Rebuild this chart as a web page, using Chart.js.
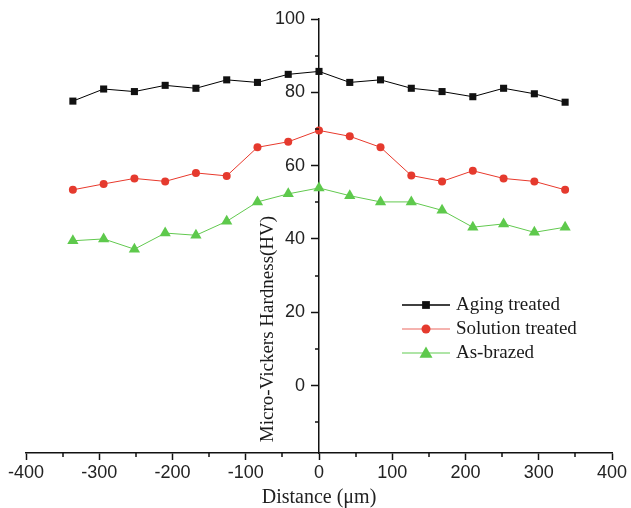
<!DOCTYPE html>
<html><head><meta charset="utf-8">
<script src="https://cdn.jsdelivr.net/npm/chart.js@4/dist/chart.umd.min.js"></script>
<style>html,body{margin:0;padding:0;background:#fff}#wrap{width:631px;height:508px}</style>
</head><body><div id="wrap"><canvas id="c" width="631" height="508"></canvas></div>
<script>
const distances = [-336,-294,-252,-210,-168,-126,-84,-42,0,42,84,126,168,210,252,294,336];
const agingTreated = [77.6,80.9,80.2,81.9,81.1,83.4,82.7,84.9,85.7,82.7,83.4,81.1,80.2,78.8,81.1,79.6,77.3];
const solutionTreated = [53.4,55.0,56.5,55.7,58.0,57.2,65.0,66.5,69.6,68.0,65.0,57.3,55.7,58.6,56.5,55.7,53.4];
const asBrazed = [39.5,40.0,37.2,41.6,41.0,44.8,50.1,52.3,53.9,51.8,50.1,50.1,47.8,43.2,44.1,41.8,43.2];
const seriesNames = ['Aging treated','Solution treated','As-brazed'];
const xTicks = [-400,-300,-200,-100,0,100,200,300,400];
const xMinorTicks = [-350,-250,-150,-50,50,150,250,350];
const yTicks = [0,20,40,60,80,100];
const yMinorTicks = [-10,10,30,50,70,90];
const xTitle = 'Distance (\u03bcm)';
const yTitle = 'Micro-Vickers Hardness(HV)';

const SANS = '"Liberation Sans", Arial, sans-serif';
const SERIF = '"Liberation Serif", "Times New Roman", serif';
const toXY = arr => arr.map((v, i) => ({x: distances[i], y: v}));

const styles = [
  {line:'#000000', fill:'#111111', legendLine:'#000000', shape:'rect', r:5},
  {line:'#e8392c', fill:'#e53a2e', legendLine:'#f29a94', shape:'circle', r:4},
  {line:'#62c94f', fill:'#5ec94c', legendLine:'#95dc8a', shape:'triangle', r:6.5}
];
const seriesData = [agingTreated, solutionTreated, asBrazed];

function drawMarker(ctx, shape, x, y, r, color) {
  ctx.fillStyle = color;
  ctx.beginPath();
  if (shape === 'rect') {
    const s = r * Math.SQRT1_2;
    ctx.rect(x - s, y - s, 2 * s, 2 * s);
  } else if (shape === 'circle') {
    ctx.arc(x, y, r, 0, Math.PI * 2);
  } else {
    ctx.moveTo(x, y - r);
    ctx.lineTo(x + r * Math.sin(Math.PI * 2 / 3), y + r * 0.5);
    ctx.lineTo(x - r * Math.sin(Math.PI * 2 / 3), y + r * 0.5);
    ctx.closePath();
  }
  ctx.fill();
}

const extras = {
  id: 'extras',
  afterLayout(chart) {
    // put the vertical axis on x = 0, in the middle of the plot
    const xs = chart.scales.x, ys = chart.scales.y;
    const x0 = xs.getPixelForValue(0);
    ys.left = x0 - 60;
    ys.right = x0;
    ys.width = 60;
  },
  afterDraw(chart) {
    const ctx = chart.ctx;
    const xs = chart.scales.x, ys = chart.scales.y;
    const axisY = ys.getPixelForValue(ys.min);
    const axisX = xs.getPixelForValue(0);
    ctx.save();
    ctx.strokeStyle = '#111';
    ctx.lineWidth = 1.5;
    ctx.beginPath();
    xMinorTicks.forEach(v => {
      const px = Math.round(xs.getPixelForValue(v));
      ctx.moveTo(px, axisY);
      ctx.lineTo(px, axisY + 4);
    });
    yMinorTicks.forEach(v => {
      const py = Math.round(ys.getPixelForValue(v));
      ctx.moveTo(axisX, py);
      ctx.lineTo(axisX - 4, py);
    });
    ctx.stroke();

    // legend
    const lx0 = 402, lx1 = 450, mx = 426, tx = 456;
    const rows = [305, 329, 353];
    ctx.font = '19px ' + SERIF;
    ctx.textBaseline = 'middle';
    ctx.textAlign = 'left';
    seriesNames.forEach((name, i) => {
      const st = styles[i];
      ctx.strokeStyle = st.legendLine;
      ctx.lineWidth = 1.5;
      ctx.beginPath();
      ctx.moveTo(lx0, rows[i]);
      ctx.lineTo(lx1, rows[i]);
      ctx.stroke();
      drawMarker(ctx, st.shape, mx, rows[i] + (st.shape === 'triangle' ? 1 : 0), st.shape === 'triangle' ? 7.5 : st.r + 0.5, st.fill);
      ctx.fillStyle = '#1a1a1a';
      ctx.fillText(name, tx, rows[i]);
    });

    // y title
    ctx.translate(268, 329);
    ctx.rotate(-Math.PI / 2);
    ctx.textAlign = 'center';
    ctx.textBaseline = 'middle';
    ctx.font = '19px ' + SERIF;
    ctx.fillStyle = '#1a1a1a';
    ctx.fillText(yTitle, 0, 0);
    ctx.restore();
  }
};

new Chart(document.getElementById('c'), {
  type: 'scatter',
  data: {
    datasets: seriesData.map((d, i) => ({
      label: seriesNames[i],
      data: toXY(d),
      showLine: true,
      borderColor: styles[i].line,
      borderWidth: 1,
      pointStyle: styles[i].shape,
      pointRadius: styles[i].r,
      pointBackgroundColor: styles[i].fill,
      pointBorderWidth: 0,
      pointHoverRadius: styles[i].r
    }))
  },
  options: {
    responsive: false,
    animation: false,
    devicePixelRatio: 1,
    layout: {padding: {left: 26, right: 19, top: 19, bottom: 0}},
    plugins: {legend: {display: false}, tooltip: {enabled: false}},
    scales: {
      x: {
        type: 'linear', position: 'bottom', min: -400, max: 400,
        afterBuildTicks: s => { s.ticks = xTicks.map(v => ({value: v})); },
        afterFit: s => { s.height = 55; },
        grid: {drawOnChartArea: false, drawTicks: true, tickLength: 7, tickColor: '#111', tickWidth: 1.5},
        border: {display: true, color: '#111', width: 1.5},
        ticks: {font: {family: SANS, size: 18}, color: '#222', padding: 2, maxRotation: 0, autoSkip: false},
        title: {display: true, text: xTitle, font: {family: SERIF, size: 20, lineHeight: 1}, color: '#222', padding: {top: 0, bottom: 0}}
      },
      y: {
        type: 'linear', position: 'left', min: -18.4, max: 100,
        afterBuildTicks: s => { s.ticks = yTicks.map(v => ({value: v})); },
        afterFit: s => { s.width = 0; },
        grid: {drawOnChartArea: false, drawTicks: true, tickLength: 8, tickColor: '#111', tickWidth: 1.5},
        border: {display: true, color: '#111', width: 1.5},
        ticks: {font: {family: SANS, size: 18}, color: '#222', padding: 6, autoSkip: false}
      }
    }
  },
  plugins: [extras]
});
</script>
</body></html>
